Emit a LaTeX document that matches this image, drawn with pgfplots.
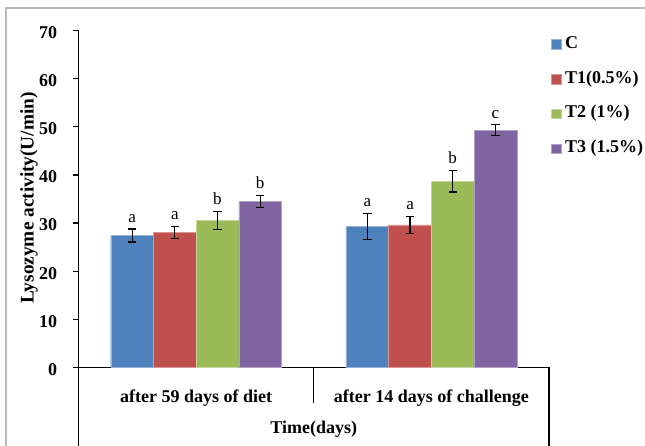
\documentclass[border=0pt]{standalone}
\usepackage{pgfplots}
\pgfplotsset{compat=1.18}
\usepackage{pgfplotstable}
\usepackage{fontspec}
\setmainfont{Liberation Serif}

\definecolor{barC}{HTML}{4F81BD}
\definecolor{barTa}{HTML}{C0504D}
\definecolor{barTb}{HTML}{9BBB59}
\definecolor{barTc}{HTML}{8064A2}

% lysozyme activity (U/min): mean, error, significance letter
\pgfplotstableread{
x y err lab
0 27.4 1.35 a
1 29.3 2.70 a
}\tblC
\pgfplotstableread{
x y err lab
0 28.1 1.25 a
1 29.6 1.85 a
}\tblTa
\pgfplotstableread{
x y err lab
0 30.6 1.85 b
1 38.7 2.25 b
}\tblTb
\pgfplotstableread{
x y err lab
0 34.5 1.30 b
1 49.3 1.10 c
}\tblTc

\newcommand{\lblfont}{\bfseries\fontsize{18}{21}\selectfont}

\begin{document}
\begin{tikzpicture}[x=1pt,y=1pt]
\useasboundingbox (0,0) rectangle (645,446);
\draw[gray!55, line width=1.3pt] (6,0) -- (6,438) -- (645,438);
\begin{axis}[
  at={(78.5pt,78.7pt)}, anchor=south west,
  scale only axis, width=470.5pt, height=336.6pt,
  xmin=-0.5, xmax=1.5, ymin=0, ymax=70,
  axis x line*=bottom, axis y line*=left,
  axis line style={-, black, line width=1.2pt},
  ybar,
  ytick={0,10,...,70},
  xtick={0,1},
  xticklabels={after 59 days of diet, after 14 days of challenge},
  xtick style={draw=none},
  ytick style={black, line width=1.2pt},
  tick align=outside,
  major tick length=5.5pt,
  /pgf/number format/assume math mode=true,
  yticklabel style={font=\lblfont, anchor=east, inner sep=0pt, xshift=-15.8pt, yshift=-2pt},
  xticklabel style={font=\lblfont, anchor=base, inner sep=0pt, yshift=-30pt},
  xlabel={Time(days)},
  xlabel style={font=\lblfont, at={(axis description cs:0.5,0)}, anchor=base, inner sep=0pt, yshift=-66pt},
  clip=false,
  point meta=explicit symbolic,
  nodes near coords,
  visualization depends on={\thisrow{err} \as \errv},
  nodes near coords style={font=\fontsize{17}{19}\selectfont, anchor=base, inner sep=0pt, yshift={\errv*4.8086pt+6.5pt}},
  legend style={at={(axis description cs:1.00425,0.985)}, anchor=north west,
    draw=none, fill=none, inner sep=0pt, row sep=18.2pt, font=\lblfont,
    nodes={inner sep=0pt, text height=12.5pt, text depth=4pt}},
  legend cell align=left,
  legend image code/.code={\fill[#1] (0pt,-5pt) rectangle (9.5pt,4.5pt);},
]
\addplot[fill=barC, draw=barC!60!white, line width=0.4pt, bar width=42.7pt, bar shift=-64.05pt,
  error bars/.cd, y dir=both, y explicit,
  error bar style={black, line width=1.1pt},
  error mark options={black, rotate=90, mark size=4.2pt, line width=1.1pt}]
  table[x=x, y=y, y error=err, meta=lab] {\tblC};
\addlegendentry{\hspace{4pt}C}
\addplot[fill=barTa, draw=barTa!60!white, line width=0.4pt, bar width=42.7pt, bar shift=-21.35pt,
  error bars/.cd, y dir=both, y explicit,
  error bar style={black, line width=1.1pt},
  error mark options={black, rotate=90, mark size=4.2pt, line width=1.1pt}]
  table[x=x, y=y, y error=err, meta=lab] {\tblTa};
\addlegendentry{\hspace{4pt}T1(0.5\%)}
\addplot[fill=barTb, draw=barTb!60!white, line width=0.4pt, bar width=42.7pt, bar shift=21.35pt,
  error bars/.cd, y dir=both, y explicit,
  error bar style={black, line width=1.1pt},
  error mark options={black, rotate=90, mark size=4.2pt, line width=1.1pt}]
  table[x=x, y=y, y error=err, meta=lab] {\tblTb};
\addlegendentry{\hspace{4pt}T2 (1\%)}
\addplot[fill=barTc, draw=barTc!60!white, line width=0.4pt, bar width=42.7pt, bar shift=64.05pt,
  error bars/.cd, y dir=both, y explicit,
  error bar style={black, line width=1.1pt},
  error mark options={black, rotate=90, mark size=4.2pt, line width=1.1pt}]
  table[x=x, y=y, y error=err, meta=lab] {\tblTc};
\addlegendentry{\hspace{4pt}T3 (1.5\%)}
% group separators below the category axis
\draw[black, line width=1.2pt] (axis cs:-0.5,0) -- ++(0pt,-78.7pt);
\draw[black, line width=1.2pt] (axis cs:0.5,0) -- ++(0pt,-36pt);
\draw[black, line width=1.2pt] (axis cs:1.5,0) -- ++(0pt,-78.7pt);
\end{axis}
\node[rotate=90, font=\bfseries\fontsize{19.3}{22}\selectfont, anchor=center] at (29,248) {Lysozyme activity(U/min)};
\end{tikzpicture}
\end{document}
